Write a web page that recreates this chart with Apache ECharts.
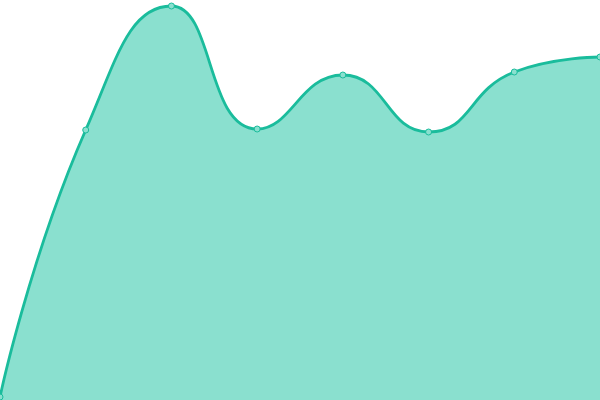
<!DOCTYPE html>
<html>
<head>
<meta charset="utf-8">
<script src="https://cdn.jsdelivr.net/npm/echarts@6/dist/echarts.min.js"></script>
<style>
  html, body { margin: 0; padding: 0; background: #fff; }
  #chart { width: 600px; height: 400px; }
</style>
</head>
<body>
<div id="chart"></div>
<script>
var categories = ['1', '2', '3', '4', '5', '6', '7', '8'];
var values = [3, 270, 394, 271, 325, 268, 328, 343];

var myChart = echarts.init(document.getElementById('chart'));
var option = {
    animation: false,
    grid: { left: 0, right: 0, top: 0, bottom: 0 },
    xAxis: {
        type: 'category',
        data: categories,
        boundaryGap: false,
        show: false
    },
    yAxis: {
        type: 'value',
        min: 0,
        max: 400,
        show: false
    },
    series: [
        {
            type: 'line',
            data: values,
            smooth: true,
            symbol: 'circle',
            symbolSize: 6,
            lineStyle: { color: '#1abc9c', width: 2.8 },
            itemStyle: { color: '#8ae0cf', borderColor: '#1abc9c', borderWidth: 1 },
            areaStyle: { color: '#8ae0cf', opacity: 1 }
        }
    ]
};
myChart.setOption(option);
</script>
</body>
</html>
